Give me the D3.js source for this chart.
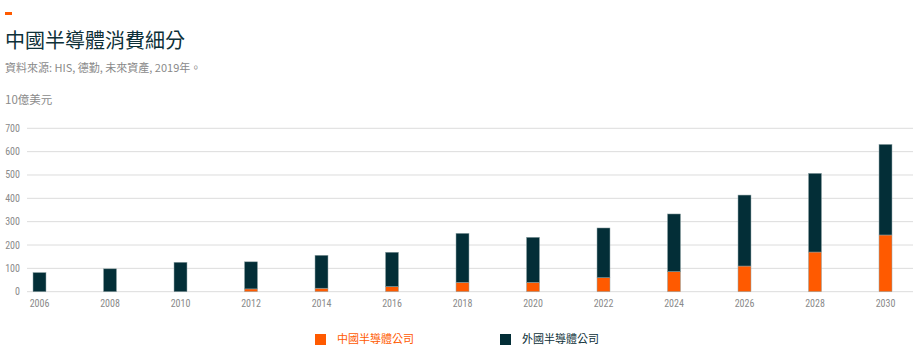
<!DOCTYPE html>
<html><head><meta charset="utf-8">
<script src="https://cdn.jsdelivr.net/npm/d3@7"></script>
<style>
body{margin:0;background:#fff;}
svg{display:block;}
</style></head>
<body>
<svg id="c" width="915" height="355"></svg>
<script>
const years = ["2006","2008","2010","2012","2014","2016","2018","2020","2022","2024","2026","2028","2030"];
const chinaVals = [0, 0, 0, 12, 15, 22, 40, 40, 60, 86, 110, 170, 243];
const foreignVals = [82, 98, 126, 116, 141, 147, 210, 193, 213, 247, 304, 337, 388];
const yTicks = [0,100,200,300,400,500,600,700];
const seriesNames = ["中國半導體公司","外國半導體公司"];
const colors = ["#ff5a00","#032e37"];

const svg = d3.select("#c");
const numFont = "'Liberation Sans Narrow','Roboto Condensed','Liberation Sans',Arial,sans-serif";
const cjkFont = "'Noto Sans CJK TC','Noto Sans CJK SC',sans-serif";

// header
svg.append("rect").attr("x",5).attr("y",12).attr("width",7).attr("height",3).attr("fill","#ff5a00");
svg.append("text").attr("x",5).attr("y",48).attr("font-family",cjkFont).attr("font-size",20)
  .attr("fill","#0d3038").text("中國半導體消費細分");
svg.append("text").attr("x",5).attr("y",72).attr("font-family","'Liberation Sans Narrow','Noto Sans CJK TC',sans-serif").attr("font-size",11)
  .attr("fill","#8a8a8a").text("資料來源: HIS, 德勤, 未來資產,  2019年。");
svg.append("text").attr("x",5).attr("y",104).attr("font-family",cjkFont).attr("font-size",11.5)
  .attr("fill","#8a8a8a").text("10億美元");

const y = d3.scaleLinear().domain([0,700]).range([291.7,128.3]);
const x = d3.scaleBand().domain(years).range([4.25,920.75]).paddingInner(0.816).paddingOuter(0.408);

// grid
svg.append("g").selectAll("line").data(yTicks).join("line")
  .attr("x1",27).attr("x2",913).attr("y1",d=>y(d)).attr("y2",d=>y(d))
  .attr("stroke","#dcdcdc").attr("stroke-width",1);

// y labels
svg.append("g").selectAll("text").data(yTicks).join("text")
  .attr("x",20).attr("y",d=>y(d)).attr("dy","0.35em").attr("text-anchor","end")
  .attr("font-family",numFont).attr("font-size",10).attr("fill","#8a8a8a").text(d=>d);

// stacked data
const rows = years.map((yr,i)=>({year:yr, china:chinaVals[i], foreign:foreignVals[i]}));
const stack = d3.stack().keys(["china","foreign"])(rows);
svg.append("g").selectAll("g").data(stack).join("g")
  .attr("fill",(d,i)=>colors[i])
  .selectAll("rect").data(d=>d).join("rect")
  .attr("x",d=>x(d.data.year)).attr("width",x.bandwidth())
  .attr("y",d=>y(d[1])).attr("height",d=>Math.max(0,y(d[0])-y(d[1])))
  .attr("stroke","#8fa3a6").attr("stroke-width",0.5);

// x labels
svg.append("g").selectAll("text").data(years).join("text")
  .attr("x",d=>x(d)+x.bandwidth()/2).attr("y",307).attr("text-anchor","middle")
  .attr("font-family",numFont).attr("font-size",10).attr("fill","#8a8a8a").text(d=>d);

// legend
const legX = [315,500];
const lg = svg.append("g").selectAll("g").data(seriesNames).join("g")
  .attr("transform",(d,i)=>`translate(${legX[i]},334)`);
lg.append("rect").attr("width",11).attr("height",11).attr("fill",(d,i)=>colors[i]);
lg.append("text").attr("x",22).attr("y",5.5).attr("dy","0.35em").attr("font-family",cjkFont)
  .attr("font-size",11).attr("fill",(d,i)=>i===0?"#ff5a00":"#0d3038").text(d=>d);
</script>
</body></html>
